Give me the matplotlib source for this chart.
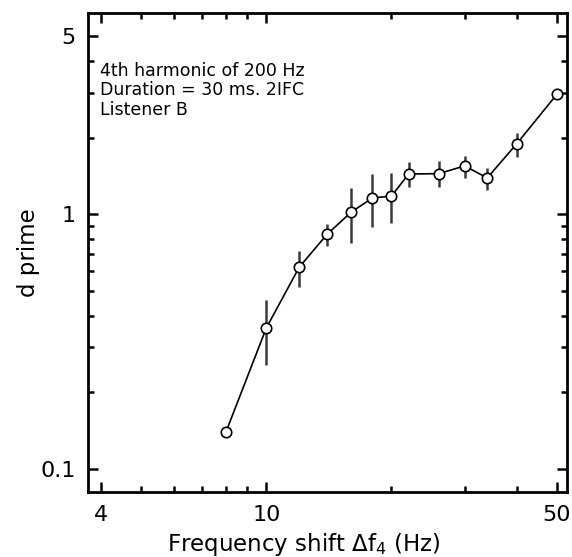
import matplotlib
matplotlib.use('Agg')
import matplotlib.pyplot as plt
from matplotlib.ticker import FixedLocator, NullFormatter
import numpy as np

# Data
shift_hz = [8, 10, 12, 14, 16, 18, 20, 22, 26, 30, 34, 40, 50]
dprime   = [0.14, 0.358, 0.62, 0.835, 1.02, 1.16, 1.18, 1.44, 1.445, 1.55, 1.39, 1.89, 2.96]
err_low  = [0.14, 0.256, 0.518, 0.753, 0.769, 0.894, 0.922, 1.277, 1.28, 1.385, 1.25, 1.675, 2.96]
err_high = [0.14, 0.461, 0.718, 0.913, 1.265, 1.436, 1.45, 1.61, 1.62, 1.69, 1.52, 2.08, 2.96]

x_major = [4, 10, 50]
x_minor = [5, 6, 7, 8, 9, 20, 30, 40]
y_major = [0.1, 1, 5]
y_minor = [0.2, 0.3, 0.4, 0.5, 0.6, 0.7, 0.8, 0.9, 2, 3, 4]

notes = ['4th harmonic of 200 Hz', 'Duration = 30 ms. 2IFC', 'Listener B']

plt.rcParams['font.family'] = ['DejaVu Sans']

fig = plt.figure(figsize=(5.72, 5.57), dpi=100)
ax = fig.add_axes([0.1544, 0.1162, 0.9907 - 0.1544, 0.9761 - 0.1162])

d = np.array(dprime)
yerr = [d - np.array(err_low), np.array(err_high) - d]
ax.errorbar(shift_hz, dprime, yerr=yerr, fmt='none', ecolor='#3a3a3a',
            elinewidth=1.8, capsize=0, zorder=2)
ax.plot(shift_hz, dprime, color='black', linewidth=1.2, marker='o',
        markersize=7.5, markerfacecolor='white', markeredgecolor='black',
        markeredgewidth=1.2, zorder=3)

ax.set_xscale('log')
ax.set_yscale('log')
ax.set_xlim(3.73, 52.8)
ax.set_ylim(0.081, 6.16)

ax.xaxis.set_major_locator(FixedLocator(x_major))
ax.xaxis.set_minor_locator(FixedLocator(x_minor))
ax.yaxis.set_major_locator(FixedLocator(y_major))
ax.yaxis.set_minor_locator(FixedLocator(y_minor))
ax.set_xticklabels(['4', '10', '50'])
ax.set_yticklabels(['0.1', '1', '5'])
ax.xaxis.set_minor_formatter(NullFormatter())
ax.yaxis.set_minor_formatter(NullFormatter())

ax.tick_params(which='both', direction='in', top=True, right=True, width=1.8)
ax.tick_params(which='major', length=7, labelsize=16)
ax.tick_params(axis='x', which='major', pad=9)
ax.tick_params(axis='y', which='major', pad=9)
ax.tick_params(which='minor', length=4)
for s in ax.spines.values():
    s.set_linewidth(2)

ax.set_xlabel(r'Frequency shift $\mathregular{\Delta f_4}$ (Hz)', fontsize=16.5)
ax.set_ylabel('d prime', fontsize=16.5)
ax.xaxis.set_label_coords(0.451, -0.08)
ax.yaxis.set_label_coords(-0.10, 0.5)

for i, line in enumerate(notes):
    ax.text(0.025, 0.87 - i * 0.041, line, transform=ax.transAxes,
            fontsize=12.5, va='baseline', ha='left')

fig.savefig('out.png', dpi=100)
